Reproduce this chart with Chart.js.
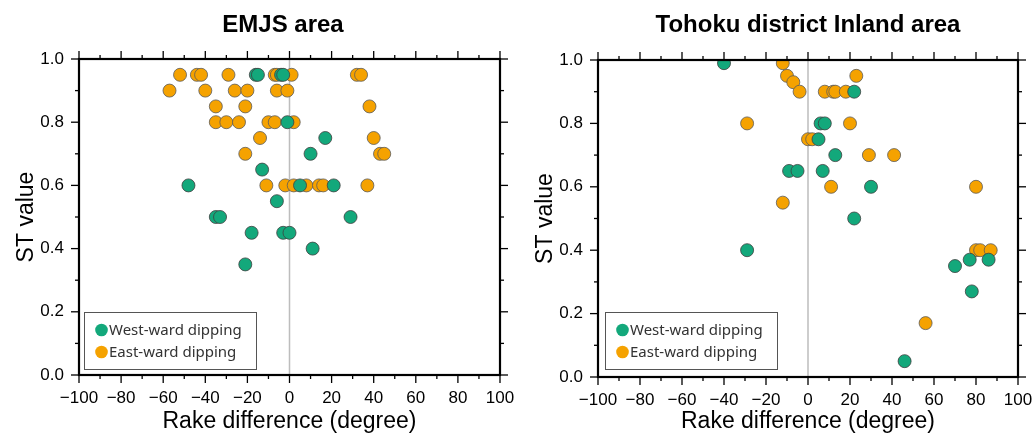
<!DOCTYPE html>
<html>
<head>
<meta charset="utf-8">
<script src="https://cdn.jsdelivr.net/npm/chart.js@4/dist/chart.umd.min.js"></script>
<style>
  html, body { margin: 0; padding: 0; background: #fff; }
  canvas { position: absolute; top: 0; }
  #emjs { left: 0; }
  #tohoku { left: 517px; }
</style>
</head>
<body>
<canvas id="emjs" width="517" height="435"></canvas>
<canvas id="tohoku" width="518" height="435"></canvas>
<script>
// rake difference (deg) and ST value, one pair of arrays per group
const emjsWestRake = [-16, -15, -4, -3, -1, 17, 10, -13, -48, 5, 21, -6, -35, -33, 29, -18, -3, 0, 11, -21];
const emjsWestST   = [0.95, 0.95, 0.95, 0.95, 0.80, 0.75, 0.70, 0.65, 0.60, 0.60, 0.60, 0.55, 0.50, 0.50, 0.50, 0.45, 0.45, 0.45, 0.40, 0.35];

const emjsEastRake = [-52, -44, -42, -29, -7, -6, 1, 32, 34,
                      -57, -40, -26, -20, -6, -1,
                      -35, -21, 38,
                      -35, -30, -24, -10, -7, 2,
                      -14, 40,
                      -21, 43, 45,
                      -11, -2, 2, 8, 14, 16, 37];
const emjsEastST   = [0.95, 0.95, 0.95, 0.95, 0.95, 0.95, 0.95, 0.95, 0.95,
                      0.90, 0.90, 0.90, 0.90, 0.90, 0.90,
                      0.85, 0.85, 0.85,
                      0.80, 0.80, 0.80, 0.80, 0.80, 0.80,
                      0.75, 0.75,
                      0.70, 0.70, 0.70,
                      0.60, 0.60, 0.60, 0.60, 0.60, 0.60, 0.60];

const tohokuWestRake = [-40, -9, -5, 22, 6, 8, 5, 13, 7, 30, 22, -29, 77, 86, 70, 78, 46];
const tohokuWestST   = [0.99, 0.65, 0.65, 0.90, 0.80, 0.80, 0.75, 0.70, 0.65, 0.60, 0.50, 0.40, 0.37, 0.37, 0.35, 0.27, 0.05];

const tohokuEastRake = [-12, -10, -7, -4, -29, 0, 2, -12, 23, 8, 12, 13, 18, 20, 29, 41, 11, 80, 80, 82, 87, 56];
const tohokuEastST   = [0.99, 0.95, 0.93, 0.90, 0.80, 0.75, 0.75, 0.55, 0.95, 0.90, 0.90, 0.90, 0.90, 0.80, 0.70, 0.70, 0.60, 0.60, 0.40, 0.40, 0.40, 0.17];

const rakeTicks = [-100, -80, -60, -40, -20, 0, 20, 40, 60, 80, 100];
const stTicks = [0, 0.2, 0.4, 0.6, 0.8, 1.0];
const groupNames = ['West-ward dipping', 'East-ward dipping'];

const WEST = '#13a87b';
const EAST = '#f5a200';
const FONT = '"Liberation Sans", Arial, Helvetica, sans-serif';

function pts(xs, ys) {
  return xs.map((x, i) => ({ x: x, y: ys[i] }));
}

function line(ctx, x1, y1, x2, y2) {
  ctx.beginPath();
  ctx.moveTo(x1, y1);
  ctx.lineTo(x2, y2);
  ctx.stroke();
}

// frame, ticks on every side, zero line, titles and boxed legend
const decor = {
  id: 'decor',
  beforeDatasetsDraw(chart) {
    const ctx = chart.ctx;
    const { top, bottom } = chart.chartArea;
    const x0 = chart.scales.x.getPixelForValue(0);
    ctx.save();
    ctx.strokeStyle = '#bdbdbd';
    ctx.lineWidth = 1.5;
    line(ctx, x0, top, x0, bottom);
    ctx.restore();
  },
  afterDraw(chart, args, o) {
    const ctx = chart.ctx;
    const { left, right, top, bottom } = chart.chartArea;
    const xs = chart.scales.x, ys = chart.scales.y;
    ctx.save();

    ctx.strokeStyle = '#000';
    ctx.lineWidth = 1.3;
    for (let v = -100; v <= 100; v += 10) {
      const px = xs.getPixelForValue(v);
      const len = v % 20 === 0 ? 8 : 4;
      line(ctx, px, bottom, px, bottom + len);
      line(ctx, px, top, px, top - len);
    }
    for (let i = 0; i <= 10; i++) {
      const py = ys.getPixelForValue(i / 10);
      const len = i % 2 === 0 ? 8 : 4;
      line(ctx, left - len, py, left, py);
      line(ctx, right, py, right + len, py);
    }
    ctx.lineWidth = 2.2;
    ctx.strokeRect(left, top, right - left, bottom - top);

    ctx.fillStyle = '#000';
    ctx.font = 'bold 24px ' + FONT;
    ctx.textAlign = 'center';
    ctx.textBaseline = 'alphabetic';
    ctx.fillText(o.title, o.titleX, 32);

    ctx.font = '23px ' + FONT;
    ctx.fillText('Rake difference (degree)', (left + right) / 2, 428);

    ctx.save();
    ctx.translate(o.yTitleX, (top + bottom) / 2);
    ctx.rotate(-Math.PI / 2);
    ctx.fillText('ST value', 0, 0);
    ctx.restore();

    // legend box
    const lx = o.legendX, ly = 312, lw = 172, lh = 57;
    ctx.fillStyle = '#fff';
    ctx.fillRect(lx, ly, lw, lh);
    ctx.strokeStyle = '#555';
    ctx.lineWidth = 1;
    ctx.strokeRect(lx + 0.5, ly + 0.5, lw, lh);
    ctx.font = '15px "Noto Sans", "Open Sans", sans-serif';
    ctx.textAlign = 'left';
    ctx.textBaseline = 'middle';
    chart.data.datasets.forEach((ds, i) => {
      const cy = ly + 18 + i * 22;
      ctx.beginPath();
      ctx.arc(lx + 17.5, cy, 6.3, 0, Math.PI * 2);
      ctx.fillStyle = ds.backgroundColor;
      ctx.fill();
      ctx.fillStyle = '#333';
      ctx.fillText(ds.label, lx + 25, cy + 1);
    });
    ctx.restore();
  }
};

function makeChart(id, west, east, o) {
  const canvas = document.getElementById(id);
  return new Chart(canvas, {
    type: 'scatter',
    data: {
      datasets: [{
        label: groupNames[0],
        data: west,
        backgroundColor: WEST,
        borderColor: '#3f3f3f',
        borderWidth: 0.8,
        pointRadius: 6.5
      }, {
        label: groupNames[1],
        data: east,
        backgroundColor: EAST,
        borderColor: '#5a5a5a',
        borderWidth: 0.8,
        pointRadius: 6.5
      }]
    },
    options: {
      responsive: false,
      animation: false,
      layout: {
        padding: { left: 0, top: o.areaTop, right: canvas.width - o.areaRight, bottom: 0 }
      },
      plugins: {
        legend: { display: false },
        tooltip: { enabled: false },
        decor: o
      },
      scales: {
        x: {
          type: 'linear',
          min: -100,
          max: 100,
          afterBuildTicks: (s) => { s.ticks = rakeTicks.map(v => ({ value: v })); },
          afterFit: (s) => {
            s.height = canvas.height - o.areaBottom;
            s.paddingLeft = 0;
            s.paddingRight = 0;
          },
          grid: { display: false, drawTicks: false },
          border: { display: false },
          ticks: {
            padding: 13,
            color: '#000',
            font: { family: FONT, size: 17 },
            maxRotation: 0,
            callback: (v) => v < 0 ? '\u2212' + Math.abs(v) : String(v)
          }
        },
        y: {
          type: 'linear',
          min: 0,
          max: 1,
          afterBuildTicks: (s) => { s.ticks = stTicks.map(v => ({ value: v })); },
          afterFit: (s) => {
            s.width = o.areaLeft;
            s.paddingTop = 0;
            s.paddingBottom = 0;
          },
          grid: { display: false, drawTicks: false },
          border: { display: false },
          ticks: {
            padding: 15,
            color: '#000',
            font: { family: FONT, size: 17 },
            callback: (v) => Number(v).toFixed(1)
          }
        }
      }
    },
    plugins: [decor]
  });
}

makeChart('emjs', pts(emjsWestRake, emjsWestST), pts(emjsEastRake, emjsEastST), {
  title: 'EMJS area', titleX: 283, yTitleX: 33, legendX: 84,
  areaLeft: 79, areaRight: 500, areaTop: 59, areaBottom: 375
});

makeChart('tohoku', pts(tohokuWestRake, tohokuWestST), pts(tohokuEastRake, tohokuEastST), {
  title: 'Tohoku district Inland area', titleX: 291, yTitleX: 35, legendX: 88,
  areaLeft: 81, areaRight: 501, areaTop: 60, areaBottom: 377
});
</script>
</body>
</html>
